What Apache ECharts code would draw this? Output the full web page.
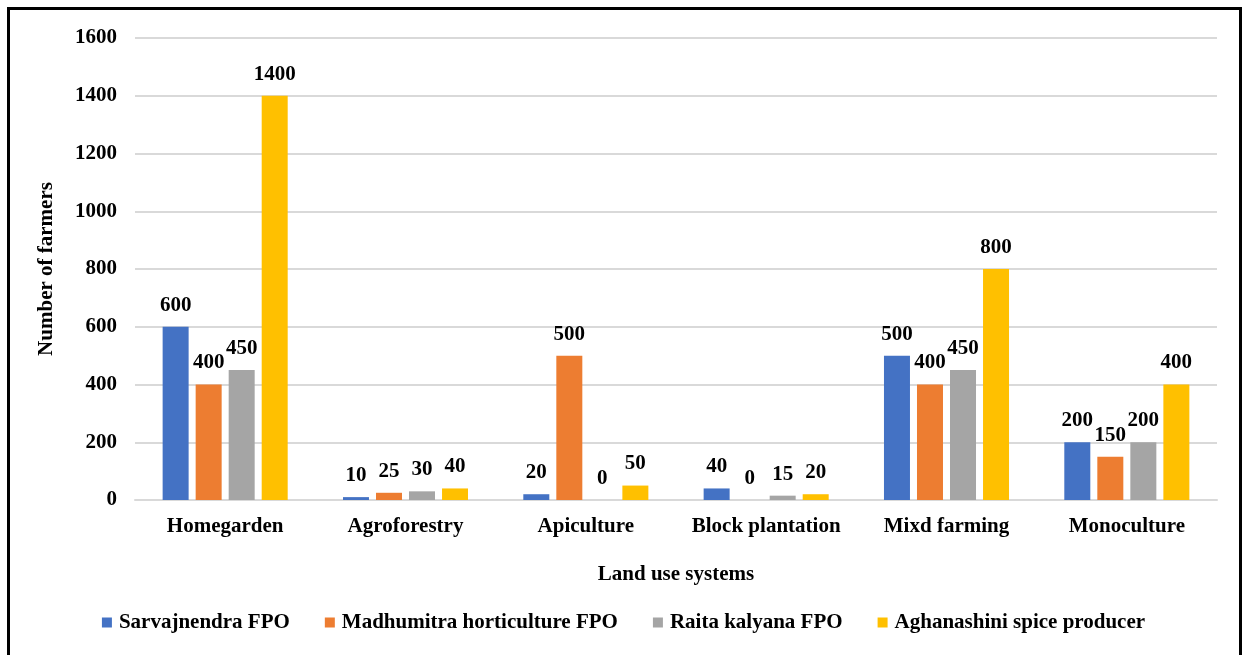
<!DOCTYPE html>
<html>
<head>
<meta charset="utf-8">
<script src="https://cdn.jsdelivr.net/npm/echarts@6/dist/echarts.min.js"></script>
<style>
  html, body { margin: 0; padding: 0; background: #fff; }
  #main { width: 1247px; height: 655px; }
</style>
</head>
<body>
<div id="main"></div>
<script>
// 分类与各系列数值
const categories = ['Homegarden', 'Agroforestry', 'Apiculture', 'Block plantation', 'Mixd farming', 'Monoculture'];
const seriesNames = ['Sarvajnendra FPO', 'Madhumitra horticulture FPO', 'Raita kalyana FPO', 'Aghanashini spice producer'];
const sarvajnendra = [600, 10, 20, 40, 500, 200];
const madhumitra = [400, 25, 500, 0, 400, 150];
const raita = [450, 30, 0, 15, 450, 200];
const aghanashini = [1400, 40, 50, 20, 800, 400];
const colors = ['#4472C4', '#ED7D31', '#A5A5A5', '#FFC000'];

const FONT = '"Liberation Serif", "Times New Roman", serif';

const chart = echarts.init(document.getElementById('main'));

const values = [sarvajnendra, madhumitra, raita, aghanashini];

const option = {
  animation: false,
  textStyle: { fontFamily: FONT },
  grid: { left: 135, right: 30, top: 38, bottom: 155, containLabel: false },
  legend: {
    bottom: 17,
    left: 'center',
    itemWidth: 10,
    itemHeight: 10,
    itemGap: 35,
    icon: 'rect',
    textStyle: { fontFamily: FONT, fontWeight: 'bold', fontSize: 21, color: '#000', padding: [0, 0, 0, 2] },
    data: seriesNames
  },
  xAxis: {
    type: 'category',
    data: categories,
    name: 'Land use systems',
    nameLocation: 'middle',
    nameGap: 64,
    nameTextStyle: { fontFamily: FONT, fontWeight: 'bold', fontSize: 21, color: '#000' },
    axisLine: { lineStyle: { color: '#d9d9d9', width: 2 } },
    axisTick: { show: false },
    axisLabel: { interval: 0, fontFamily: FONT, fontWeight: 'bold', fontSize: 21, color: '#000', margin: 16 }
  },
  yAxis: {
    type: 'value',
    min: 0,
    max: 1600,
    interval: 200,
    name: 'Number of farmers',
    nameLocation: 'middle',
    nameGap: 78,
    nameTextStyle: { fontFamily: FONT, fontWeight: 'bold', fontSize: 21, color: '#000' },
    axisLine: { show: false },
    axisTick: { show: false },
    axisLabel: {
      fontFamily: FONT, fontWeight: 'bold', fontSize: 21, color: '#000', margin: 18,
      formatter: v => String(v)
    },
    splitLine: { lineStyle: { color: '#d9d9d9', width: 2 } }
  },
  series: seriesNames.map((name, i) => ({
    name: name,
    type: 'bar',
    data: values[i],
    barWidth: 26,
    barGap: '27%',
    itemStyle: { color: colors[i] },
    label: {
      show: true,
      position: 'top',
      distance: 11,
      fontFamily: FONT,
      fontWeight: 'bold',
      fontSize: 21,
      color: '#000'
    }
  })),
  graphic: [{
    type: 'rect',
    shape: { x: 8.5, y: 8.5, width: 1232, height: 650 },
    style: { fill: 'none', stroke: '#000', lineWidth: 3 },
    silent: true
  }]
};

chart.setOption(option);
window.addEventListener('resize', () => chart.resize());
</script>
</body>
</html>
